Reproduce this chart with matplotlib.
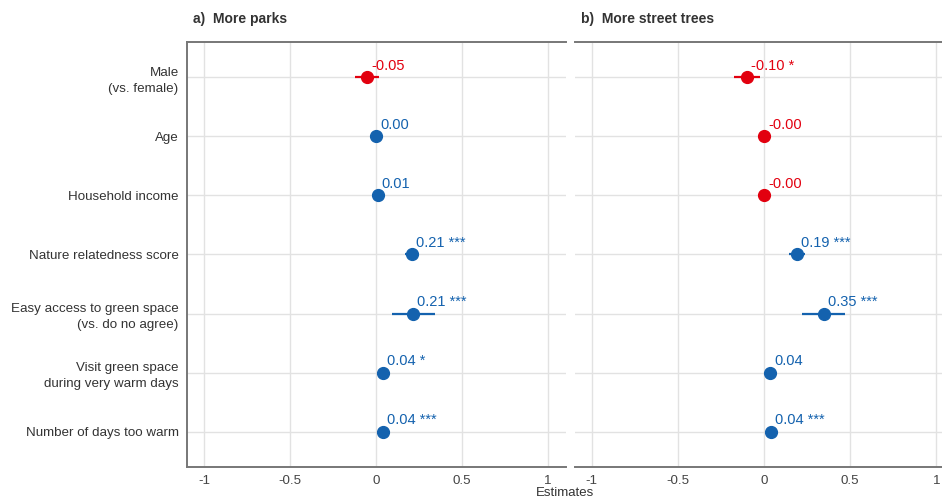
import numpy as np
import matplotlib
matplotlib.use("Agg")
from matplotlib import pyplot as plt

plt.rcParams['font.family'] = ['Liberation Sans', 'DejaVu Sans']

# predictors, listed from top to bottom
termes = ["Male\n(vs. female)", "Age", "Household income", "Nature relatedness score",
          "Easy access to green space\n(vs. do no agree)",
          "Visit green space\nduring very warm days", "Number of days too warm"]

# a) more parks
est_parcs = [-0.05, 0.002, 0.01, 0.21, 0.215, 0.04, 0.04]
bas_parcs = [-0.12, -0.004, 0.00, 0.17, 0.095, 0.02, 0.025]
haut_parcs = [0.02, 0.008, 0.02, 0.25, 0.343, 0.06, 0.055]
etoiles_parcs = ["", "", "", "***", "***", "*", "***"]

# b) more street trees
est_arbres = [-0.10, -0.001, -0.001, 0.19, 0.348, 0.035, 0.04]
bas_arbres = [-0.174, -0.007, -0.007, 0.147, 0.218, 0.015, 0.025]
haut_arbres = [-0.023, 0.005, 0.005, 0.237, 0.472, 0.055, 0.055]
etoiles_arbres = ["*", "", "", "***", "***", "", "***"]

BLEU = "#1462ae"
ROUGE = "#e2000f"
GRIS_AXE = "#777777"
GRIS_GRILLE = "#e2e2e2"


def dessinePanneau(ax, est, bas, haut, etoiles, titre, xlim, axeGauche):
    n = len(est)
    ys = np.arange(n, 0, -1)
    for y, e, b, h, s in zip(ys, est, bas, haut, etoiles):
        coul = ROUGE if e < 0 else BLEU
        ax.plot([b, h], [y, y], color=coul, lw=1.6, solid_capstyle='butt', zorder=3)
        ax.plot(e, y, 'o', color=coul, ms=8.5, zorder=4)
        txt = f"{e:.2f}" + (" " + s if s else "")
        ax.annotate(txt, (e, y), xytext=(3, 3), textcoords='offset points',
                    ha='left', va='bottom', color=coul, fontsize=10.5, zorder=5)

    ax.set_xlim(*xlim)
    ax.set_ylim(0.4, n + 0.6)
    ax.set_xticks([-1, -0.5, 0, 0.5, 1])
    ax.set_xticklabels(["-1", "-0.5", "0", "0.5", "1"])
    ax.set_yticks(ys)
    if axeGauche:
        ax.set_yticklabels(termes, multialignment='right', linespacing=1.45)
    else:
        ax.set_yticklabels([])
    ax.grid(True, color=GRIS_GRILLE, lw=1.0)
    ax.set_axisbelow(True)
    ax.tick_params(length=0, labelsize=9.6, colors="#444444", pad=6)
    for l in ax.get_yticklabels():
        l.set_color("#333333")

    for cote in ['top', 'bottom', 'left', 'right']:
        ax.spines[cote].set_visible(False)
    ax.spines['top'].set_visible(True)
    ax.spines['bottom'].set_visible(True)
    if axeGauche:
        ax.spines['left'].set_visible(True)
    for cote in ['top', 'bottom', 'left']:
        ax.spines[cote].set_color(GRIS_AXE)
        ax.spines[cote].set_linewidth(1.4)

    ax.set_title(titre, loc='left', fontsize=10, fontweight='bold', color="#333333", pad=14, x=0.015)


fig = plt.figure(figsize=(9.42, 5.03), dpi=100)
W, H = 942.0, 503.0
bas_ax = (H - 467) / H
haut_ax = (467 - 42) / H
ax1 = fig.add_axes([187 / W, bas_ax, (566 - 187) / W, haut_ax])
ax2 = fig.add_axes([575 / W, bas_ax, (942 - 575) / W, haut_ax])

dessinePanneau(ax1, est_parcs, bas_parcs, haut_parcs, etoiles_parcs, "a)  More parks", (-1.099, 1.105), True)
dessinePanneau(ax2, est_arbres, bas_arbres, haut_arbres, etoiles_arbres, "b)  More street trees", (-1.096, 1.032), False)

fig.text(565 / W, 1 - 493 / H, "Estimates", ha='center', va='center', fontsize=9.5, color="#333333")

fig.savefig("out.png", dpi=100)
